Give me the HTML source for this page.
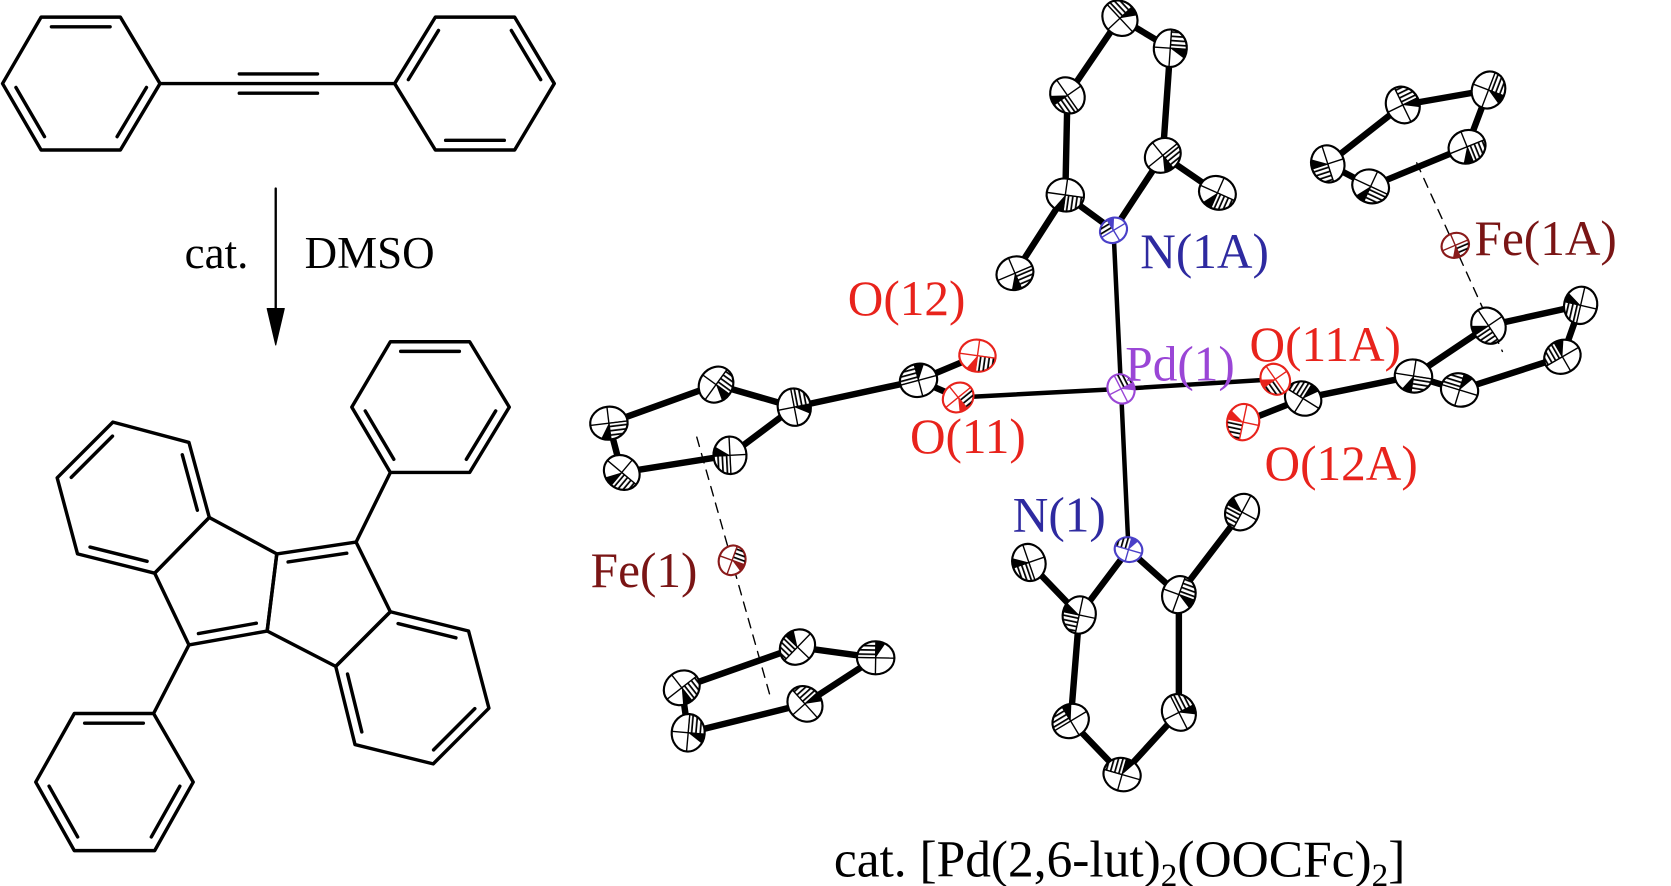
<!DOCTYPE html>
<html><head><meta charset="utf-8"><style>
html,body{margin:0;padding:0;background:#fff;}
svg{display:block}
text{font-family:"Liberation Serif",serif;}
</style></head><body>
<svg id="s" width="1671" height="886" viewBox="0 0 1559 827" xmlns="http://www.w3.org/2000/svg">
<defs>
<pattern id="h" width="4" height="4" patternUnits="userSpaceOnUse"><rect width="4" height="1.6" fill="#000"/></pattern>
<pattern id="hv" width="4" height="4" patternUnits="userSpaceOnUse"><rect width="1.6" height="4" fill="#000"/></pattern>
</defs>
<g id="chem" stroke="#000" stroke-width="3.2" fill="none" stroke-linecap="round" stroke-linejoin="round"></g>
<g id="bonds" stroke="#000" fill="none" stroke-linecap="round"></g>
<g id="atoms"></g>
<g font-size="42">
<text x="172" y="250">cat.</text>
<text x="284" y="250">DMSO</text>
</g>
<g font-size="46">
<text x="1064" y="250" fill="#2e2aa0">N(1A)</text>
<text x="1376" y="238" fill="#7a1515">Fe(1A)</text>
<text x="791" y="294" fill="#e8231c">O(12)</text>
<text x="1050" y="355" fill="#9a46d6">Pd(1)</text>
<text x="1166" y="337" fill="#e8231c">O(11A)</text>
<text x="849" y="423" fill="#e8231c">O(11)</text>
<text x="1180" y="448" fill="#e8231c">O(12A)</text>
<text x="945" y="496" fill="#2e2aa0">N(1)</text>
<text x="551" y="548" fill="#7a1515">Fe(1)</text>
</g>
<text x="778" y="818" font-size="48">cat. [Pd(2,6-lut)<tspan font-size="31" dy="9">2</tspan><tspan dy="-9">(OOCFc)</tspan><tspan font-size="31" dy="9">2</tspan><tspan dy="-9">]</tspan></text>
</svg>
<script>
(function(){
var NS="http://www.w3.org/2000/svg";
function el(p,t,a){var e=document.createElementNS(NS,t);for(var k in a)e.setAttribute(k,a[k]);p.appendChild(e);return e;}
var chem=document.getElementById('chem'),bonds=document.getElementById('bonds'),atoms=document.getElementById('atoms');
function L(a,b,w,g,extra){var o={x1:a[0],y1:a[1],x2:b[0],y2:b[1]};if(w)o['stroke-width']=w;if(extra)for(var k in extra)o[k]=extra[k];return el(g||chem,'line',o);}
function ring(pts,dbl){
  var cx=0,cy=0;pts.forEach(function(p){cx+=p[0];cy+=p[1]});cx/=pts.length;cy/=pts.length;
  el(chem,'polygon',{points:pts.map(function(p){return p.join(',')}).join(' ')});
  (dbl||[]).forEach(function(i){inner(pts[i],pts[(i+1)%pts.length],[cx,cy]);});
}
function inner(a,b,c){
  var mx=(a[0]+b[0])/2,my=(a[1]+b[1])/2,dx=c[0]-mx,dy=c[1]-my,d=Math.hypot(dx,dy),o=9;
  var ox=dx/d*o,oy=dy/d*o,t=0.13;
  var p=[a[0]+(b[0]-a[0])*t+ox,a[1]+(b[1]-a[1])*t+oy],q=[b[0]+(a[0]-b[0])*t+ox,b[1]+(a[1]-b[1])*t+oy];
  L(p,q);
}
ring([[2,78],[38,16],[112,16],[149,78],[112,140],[38,140]],[1,3,5]);
ring([[368,78],[406,16],[480,16],[517,78],[480,140],[406,140]],[0,2,4]);
L([149,78],[368,78]);
L([223,69],[296,69]);L([223,87],[296,87]);
L([257,176],[257,300],2.2);
el(chem,'polygon',{points:'249,288 265,288 257,322',fill:'#000','stroke-width':1});
var A=[53,446],B=[105,394],C=[176,413],D=[195,483],E=[144,535],F=[72,517];
var G=[258,517],H=[332,506],I=[364,571],J=[313,622],K=[249,589],M=[176,602];
ring([A,B,C,D,E,F],[0,2,4]);
ring([I,[437,589],[456,661],[404,713],[331,695],J],[0,2,4]);
el(chem,'polygon',{points:[D,G,K,M,E].map(function(p){return p.join(',')}).join(' ')});
el(chem,'polygon',{points:[G,H,I,J,K].map(function(p){return p.join(',')}).join(' ')});
inner(G,H,[300,560]);inner(K,M,[210,560]);
L(H,[364,441]);
ring([[364,441],[328,380],[364,319],[438,319],[475,380],[438,441]],[0,2,4]);
L(M,[143,666]);
ring([[143,666],[69,666],[33,730],[69,794],[144,794],[180,730]],[0,2,4]);

var P=[1046,363],N1A=[1039,215],N1=[1053,513];
var tp=[[1045,17],[1092,45],[1085,145],[994,182],[996,89]];
var bt=[[1007,574],[999,673],[1047,723],[1100,665],[1100,555]];
var O11=[894,371],O12=[912,332],Cc=[857,355],Cp1=[[741,380],[668,359],[568,395],[580,441],[681,425]];
var Fe1=[683,523],Cp1b=[[744,604],[817,614],[751,657],[642,684],[636,642]];
var O11A=[1190,354],CcA=[1216,372],O12A=[1160,394],Cp2=[[1319,351],[1389,304],[1475,285],[1458,333],[1362,364]];
var Fe1A=[1358,229],Cp2b=[[1309,98],[1389,84],[1369,137],[1279,174],[1239,153]];
var mTL=[947,255],mTR=[1136,180],mBL=[960,525],mBR=[1159,478];
var TB=6,g=bonds,i;
L([650,408],[718,648],1.3,g,{'stroke-dasharray':'9,7'});
L([1322,152],[1402,328],1.3,g,{'stroke-dasharray':'9,7'});
L(P,N1A,4.2,g);L(P,N1,4.2,g);L(P,O11,4.2,g);L(P,O11A,4.2,g);
var tr=[N1A,tp[3],tp[4],tp[0],tp[1],tp[2],N1A];
for(i=0;i<tr.length-1;i++)L(tr[i],tr[i+1],TB,g);
L(tp[3],mTL,TB,g);L(tp[2],mTR,TB,g);
var br=[N1,bt[0],bt[1],bt[2],bt[3],bt[4],N1];
for(i=0;i<br.length-1;i++)L(br[i],br[i+1],TB,g);
L(bt[0],mBL,TB,g);L(bt[4],mBR,TB,g);
function cyc(c){for(var j=0;j<c.length;j++)L(c[j],c[(j+1)%c.length],TB,g);}
L(O11,Cc,TB,g);L(O12,Cc,TB,g);L(Cc,Cp1[0],TB,g);cyc(Cp1);cyc(Cp1b);
L(O11A,CcA,TB,g);L(O12A,CcA,TB,g);L(CcA,Cp2[0],TB,g);cyc(Cp2);cyc(Cp2b);
function atom(p,r,col,seed){
  var gg=el(atoms,'g',{transform:'translate('+p[0]+','+p[1]+') rotate('+(seed*47%360)+')'});
  var ry=r*0.88;
  el(gg,'ellipse',{cx:0,cy:0,rx:r,ry:ry,fill:'#fff',stroke:col,'stroke-width':2});
  var pat=(seed%2)?'url(#h)':'url(#hv)';
  el(gg,'path',{d:'M0,0 L'+(-r)+',0 A'+r+','+ry+' 0 0 1 0,'+(-ry)+' Z',fill:pat,stroke:col,'stroke-width':1});
  el(gg,'path',{d:'M0,0 L0,'+(-ry)+' A'+r+','+ry+' 0 0 1 '+(r*0.5)+','+(-r*0.76)+' Z',fill:col});
  el(gg,'line',{x1:-r,y1:0,x2:r,y2:0,stroke:col,'stroke-width':1.3});
  el(gg,'line',{x1:0,y1:-ry,x2:0,y2:ry,stroke:col,'stroke-width':1.3});
}
var s=1;
tp.concat(bt,[mTL,mTR,mBL,mBR,Cc,CcA],Cp1,Cp1b,Cp2,Cp2b).forEach(function(p){atom(p,17.5,'#000',s++);});
atom(O11,15,'#e8231c',3);atom(O12,17,'#e8231c',4);atom(O11A,15,'#e8231c',5);atom(O12A,17,'#e8231c',6);
atom(N1A,13,'#4a40c8',7);atom(N1,13,'#4a40c8',8);atom(P,14,'#9a46d6',9);
atom(Fe1,14,'#8a1a1a',10);atom(Fe1A,13,'#8a1a1a',11);
})();
</script>
</body></html>
